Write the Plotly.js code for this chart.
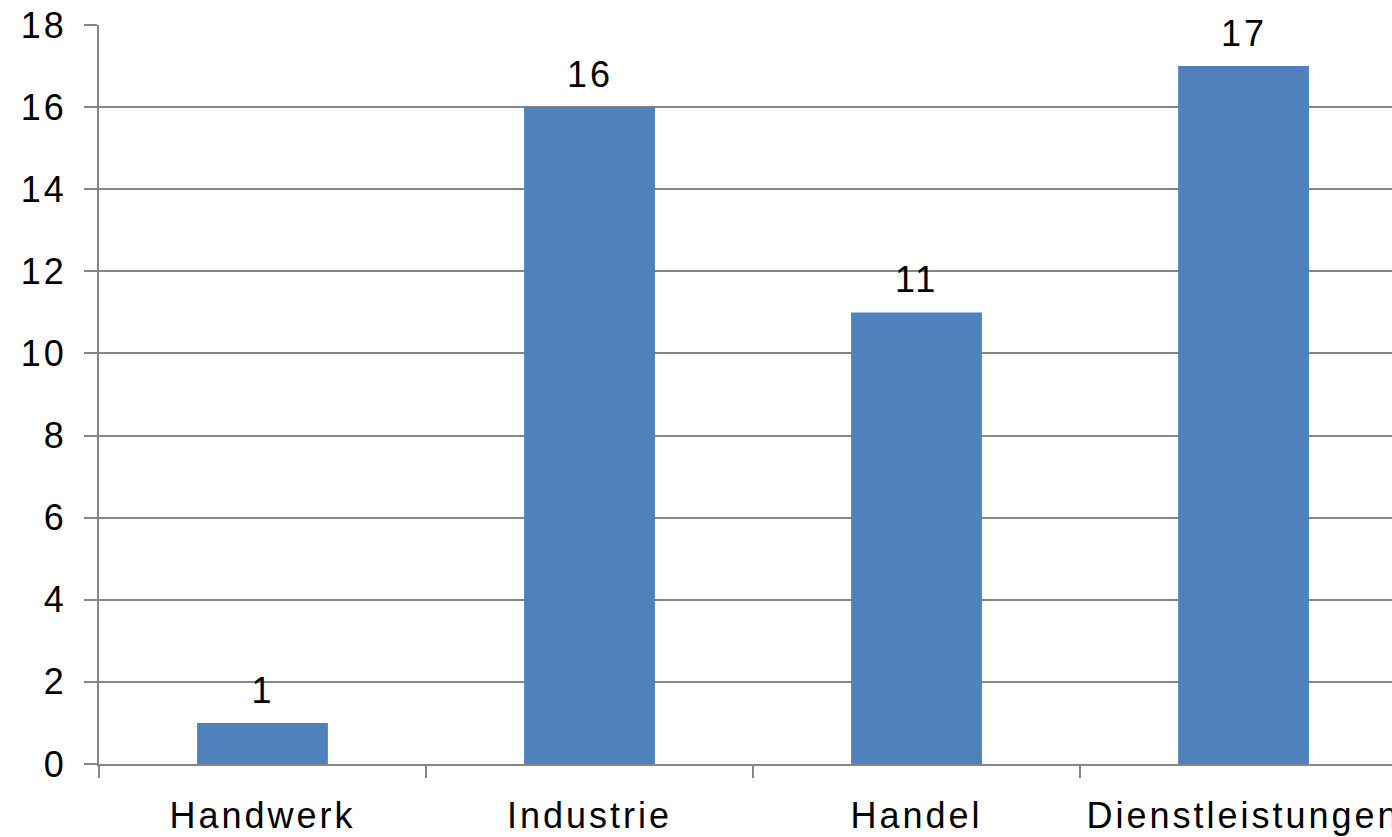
<!DOCTYPE html>
<html>
<head>
<meta charset="utf-8">
<script src="https://cdn.plot.ly/plotly-3.0.1.min.js"></script>
<style>
html,body{margin:0;padding:0;background:#fff;overflow:hidden;}
#chart .xtick text, #chart .ytick text, #chart .annotation-text { letter-spacing: 3px; }
</style>
</head>
<body>
<div id="chart" style="width:1392px;height:837px;"></div>
<script>
const categories = ["Handwerk", "Industrie", "Handel", "Dienstleistungen"];
const values = [1, 16, 11, 17];
const yTicks = [0, 2, 4, 6, 8, 10, 12, 14, 16, 18];

const FONT = "Liberation Sans, Arial, sans-serif";
const GRID = "#868686";
const FS = 36;

const trace = {
  type: "bar",
  x: categories,
  y: values,
  width: 0.4,
  marker: { color: "#4F81BD" },
  hoverinfo: "x+y"
};

const annotations = categories.map((c, i) => ({
  x: c, y: values[i], text: String(values[i]),
  xref: "x", yref: "y", showarrow: false,
  yanchor: "bottom", yshift: 10,
  font: { family: FONT, size: FS, color: "#000" }
}));

const layout = {
  width: 1392, height: 837,
  margin: { l: 99, r: 0, t: 25, b: 73, pad: 0 },
  paper_bgcolor: "#fff", plot_bgcolor: "#fff",
  showlegend: false,
  font: { family: FONT, size: FS, color: "#000" },
  xaxis: {
    type: "category",
    range: [-0.5, 3.454],
    showline: true, linecolor: GRID, linewidth: 2,
    ticks: "outside", tickson: "boundaries", ticklen: 12, tickwidth: 2, tickcolor: GRID,
    showgrid: false, zeroline: false,
    tickfont: { family: FONT, size: FS, color: "#000" },
    ticklabelstandoff: 19
  },
  yaxis: {
    range: [0, 18],
    tickvals: yTicks,
    ticktext: yTicks.map(String),
    showline: true, linecolor: GRID, linewidth: 2,
    ticks: "outside", ticklen: 13, tickwidth: 2, tickcolor: GRID,
    showgrid: true, gridcolor: GRID, gridwidth: 2,
    zeroline: false,
    tickfont: { family: FONT, size: FS, color: "#000" },
    ticklabelstandoff: 10
  },
  annotations: annotations
};

Plotly.newPlot("chart", [trace], layout, { displayModeBar: false, staticPlot: true });
</script>
</body>
</html>
